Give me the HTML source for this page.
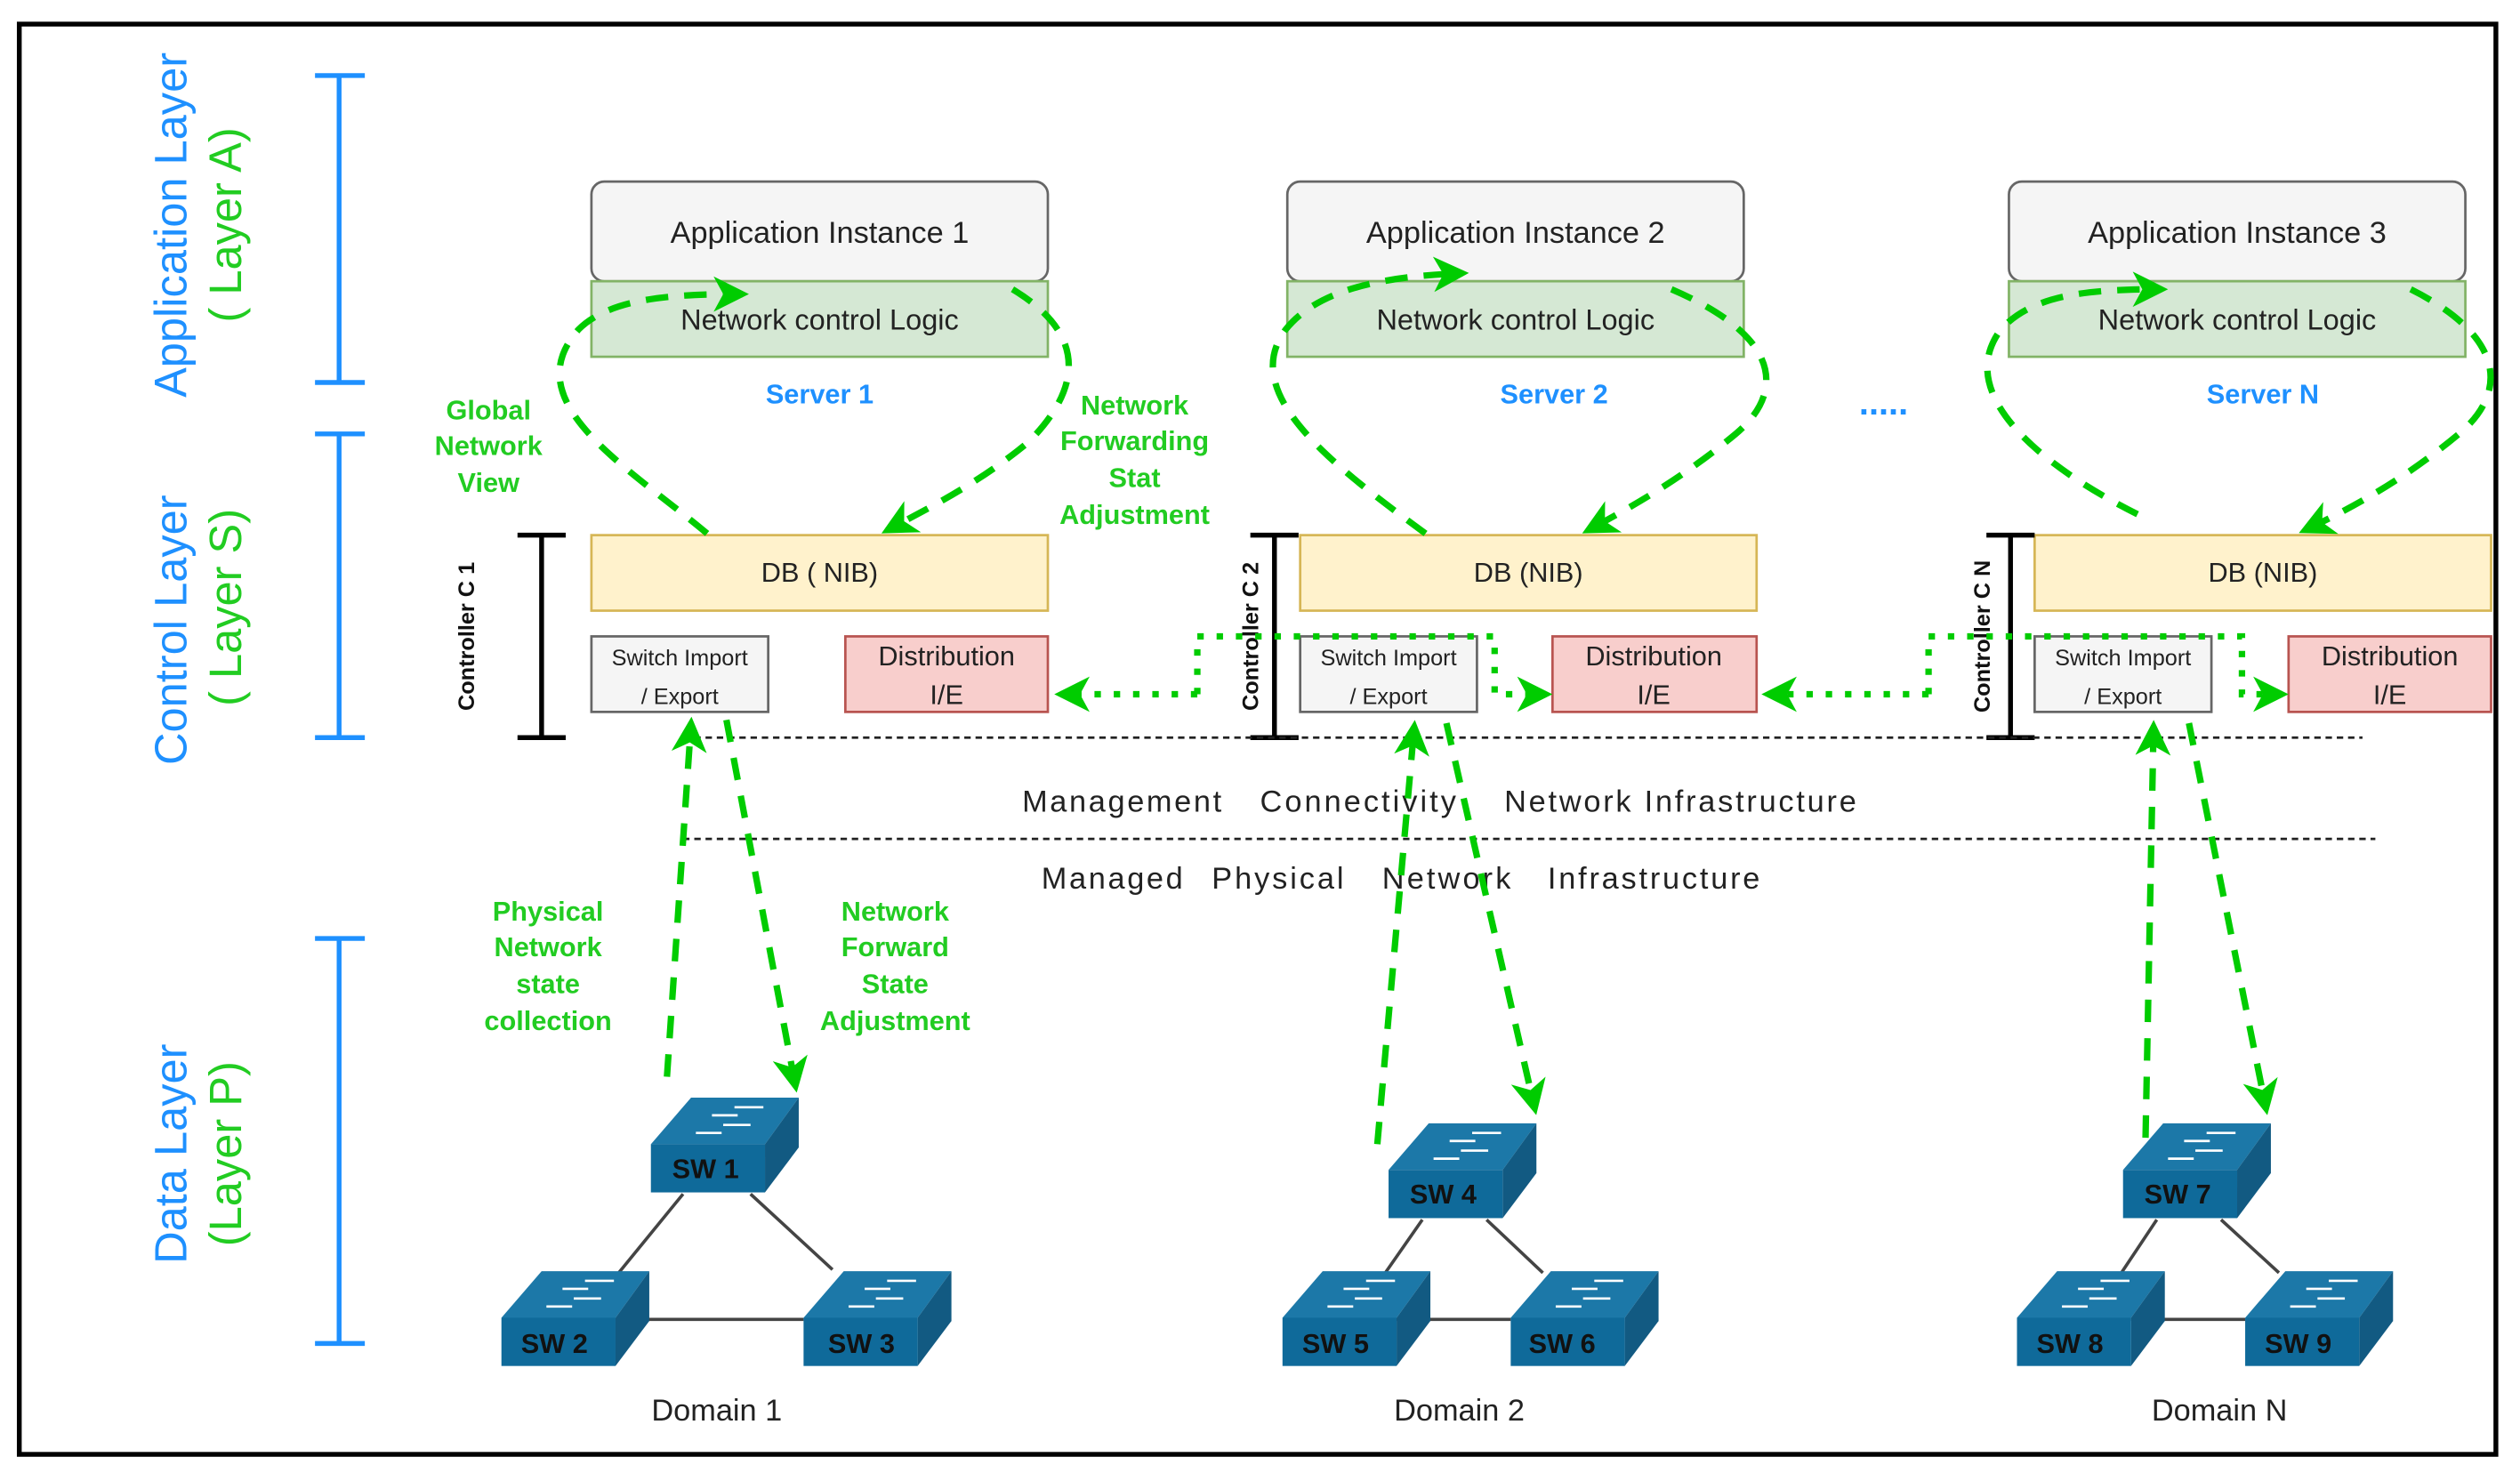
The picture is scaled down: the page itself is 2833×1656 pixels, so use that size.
<!DOCTYPE html>
<html><head><style>html,body{margin:0;padding:0;background:#fff}svg{display:block}</style></head><body>
<svg width="2833" height="1656" viewBox="0 0 1568 916.6" preserveAspectRatio="none" xmlns="http://www.w3.org/2000/svg" font-family="Liberation Sans, sans-serif">
<defs>
<marker id="b" markerWidth="22" markerHeight="22" refX="18" refY="11" orient="auto" markerUnits="userSpaceOnUse" viewBox="0 0 22 22"><path d="M0,0 L22,11 L0,22 L6,11 Z" fill="#00cc00"/></marker>
<g id="sw">
<path d="M0,0 L25,-29 L92,-29 L71,0 Z" fill="#1c78a8"/>
<path d="M71,0 L92,-29 L92,2 L71,30 Z" fill="#125a82"/>
<rect x="0" y="0" width="71" height="30" fill="#0f6a9a"/>
<g stroke="#fff" stroke-width="1.5" fill="#fff">
<line x1="52" y1="-23" x2="70" y2="-23"/><line x1="38" y1="-18" x2="54" y2="-18"/>
<line x1="45" y1="-12" x2="62" y2="-12"/><line x1="28" y1="-7" x2="44" y2="-7"/>
</g>
</g>
</defs>
<rect x="12" y="15" width="1541" height="890" fill="none" stroke="#000" stroke-width="3"/>
<g stroke="#1e90ff" stroke-width="3">
<line x1="211" y1="47" x2="211" y2="238"/><line x1="196" y1="47" x2="227" y2="47"/><line x1="196" y1="238" x2="227" y2="238"/>
<line x1="211" y1="270" x2="211" y2="459"/><line x1="196" y1="270" x2="227" y2="270"/><line x1="196" y1="459" x2="227" y2="459"/>
<line x1="211" y1="584" x2="211" y2="836"/><line x1="196" y1="584" x2="227" y2="584"/><line x1="196" y1="836" x2="227" y2="836"/>
</g>
<g font-size="28" text-anchor="middle">
<text transform="translate(116,140) rotate(-90)" fill="#1e90ff">Application Layer</text>
<text transform="translate(150,140) rotate(-90)" fill="#22cc22">( Layer A)</text>
<text transform="translate(116,392) rotate(-90)" fill="#1e90ff">Control Layer</text>
<text transform="translate(150,378) rotate(-90)" fill="#22cc22">( Layer S)</text>
<text transform="translate(116,718) rotate(-90)" fill="#1e90ff">Data Layer</text>
<text transform="translate(150,718) rotate(-90)" fill="#22cc22">(Layer P)</text>
</g>
<g font-size="19" text-anchor="middle" fill="#222">
<rect x="368" y="113" width="284" height="62" rx="8" fill="#f5f5f5" stroke="#666" stroke-width="1.5"/>
<rect x="368" y="175" width="284" height="47" fill="#d5e8d4" stroke="#82b366" stroke-width="1.5"/>
<text x="510" y="151">Application Instance 1</text>
<text x="510" y="205" font-size="18">Network control Logic</text>
<rect x="801" y="113" width="284" height="62" rx="8" fill="#f5f5f5" stroke="#666" stroke-width="1.5"/>
<rect x="801" y="175" width="284" height="47" fill="#d5e8d4" stroke="#82b366" stroke-width="1.5"/>
<text x="943" y="151">Application Instance 2</text>
<text x="943" y="205" font-size="18">Network control Logic</text>
<rect x="1250" y="113" width="284" height="62" rx="8" fill="#f5f5f5" stroke="#666" stroke-width="1.5"/>
<rect x="1250" y="175" width="284" height="47" fill="#d5e8d4" stroke="#82b366" stroke-width="1.5"/>
<text x="1392" y="151">Application Instance 3</text>
<text x="1392" y="205" font-size="18">Network control Logic</text>
</g>
<g font-size="17" font-weight="bold" fill="#1e90ff" text-anchor="middle">
<text x="510" y="251">Server 1</text><text x="967" y="251">Server 2</text><text x="1408" y="251">Server N</text>
<text x="1172" y="258" font-size="22">.....</text>
</g>
<g font-size="17" text-anchor="middle" fill="#222">
<rect x="368" y="333" width="284" height="47" fill="#fff2cc" stroke="#d6b656" stroke-width="1.5"/><text x="510" y="362">DB ( NIB)</text>
<rect x="809" y="333" width="284" height="47" fill="#fff2cc" stroke="#d6b656" stroke-width="1.5"/><text x="951" y="362">DB (NIB)</text>
<rect x="1266" y="333" width="284" height="47" fill="#fff2cc" stroke="#d6b656" stroke-width="1.5"/><text x="1408" y="362">DB (NIB)</text>
<g font-size="14">
<rect x="368" y="396" width="110" height="47" fill="#f5f5f5" stroke="#666" stroke-width="1.5"/><text x="423" y="414">Switch Import</text><text x="423" y="438">/ Export</text>
<rect x="809" y="396" width="110" height="47" fill="#f5f5f5" stroke="#666" stroke-width="1.5"/><text x="864" y="414">Switch Import</text><text x="864" y="438">/ Export</text>
<rect x="1266" y="396" width="110" height="47" fill="#f5f5f5" stroke="#666" stroke-width="1.5"/><text x="1321" y="414">Switch Import</text><text x="1321" y="438">/ Export</text>
</g>
<rect x="526" y="396" width="126" height="47" fill="#f8cecc" stroke="#b85450" stroke-width="1.5"/><text x="589" y="414">Distribution</text><text x="589" y="438">I/E</text>
<rect x="966" y="396" width="127" height="47" fill="#f8cecc" stroke="#b85450" stroke-width="1.5"/><text x="1029" y="414">Distribution</text><text x="1029" y="438">I/E</text>
<rect x="1424" y="396" width="126" height="47" fill="#f8cecc" stroke="#b85450" stroke-width="1.5"/><text x="1487" y="414">Distribution</text><text x="1487" y="438">I/E</text>
</g>
<g stroke="#000" stroke-width="3">
<line x1="337" y1="333" x2="337" y2="459"/><line x1="322" y1="333" x2="352" y2="333"/><line x1="322" y1="459" x2="352" y2="459"/>
<line x1="793" y1="333" x2="793" y2="459"/><line x1="778" y1="333" x2="808" y2="333"/><line x1="778" y1="459" x2="808" y2="459"/>
<line x1="1251" y1="333" x2="1251" y2="459"/><line x1="1236" y1="333" x2="1266" y2="333"/><line x1="1236" y1="459" x2="1266" y2="459"/>
</g>
<g font-size="14" font-weight="bold" text-anchor="middle" fill="#111">
<text transform="translate(295,396) rotate(-90)">Controller C 1</text>
<text transform="translate(783,396) rotate(-90)">Controller C 2</text>
<text transform="translate(1238,396) rotate(-90)">Controller C N</text>
</g>
<g stroke="#222" stroke-width="1.5" stroke-dasharray="4,3">
<line x1="425" y1="459" x2="1470" y2="459"/><line x1="425" y1="522" x2="1478" y2="522"/>
</g>
<g font-size="19" fill="#222">
<text x="636" y="505" textLength="124">Management</text>
<text x="784" y="505" textLength="122">Connectivity</text>
<text x="936" y="505" textLength="219">Network Infrastructure</text>
<text x="648" y="553" textLength="88">Managed</text>
<text x="754" y="553" textLength="82">Physical</text>
<text x="860" y="553" textLength="80">Network</text>
<text x="963" y="553" textLength="132">Infrastructure</text>
</g>
<g font-size="17" font-weight="bold" fill="#22cc22" text-anchor="middle">
<text x="304" y="261">Global</text><text x="304" y="283">Network</text><text x="304" y="306">View</text>
<text x="706" y="258">Network</text><text x="706" y="280">Forwarding</text><text x="706" y="303">Stat</text><text x="706" y="326">Adjustment</text>
<text x="341" y="573">Physical</text><text x="341" y="595">Network</text><text x="341" y="618">state</text><text x="341" y="641">collection</text>
<text x="557" y="573">Network</text><text x="557" y="595">Forward</text><text x="557" y="618">State</text><text x="557" y="641">Adjustment</text>
</g>
<g fill="none" stroke="#00cc00" stroke-width="4" stroke-dasharray="14,10">
<path d="M440,332 C390,290 320,250 360,205 C380,185 420,183 462,183" marker-end="url(#b)"/>
<path d="M630,180 C680,210 670,245 640,275 C610,300 580,315 552,330" marker-end="url(#b)"/>
<path d="M415,670 L430,450" marker-end="url(#b)"/>
<path d="M452,448 L495,676" marker-end="url(#b)"/>
<path d="M887,332 C830,290 770,245 800,205 C820,180 860,172 910,170" marker-end="url(#b)"/>
<path d="M1040,180 C1110,210 1110,245 1080,270 C1050,295 1020,313 988,330" marker-end="url(#b)"/>
<path d="M857,712 L880,452" marker-end="url(#b)"/>
<path d="M900,450 L955,690" marker-end="url(#b)"/>
<path d="M1330,320 C1270,290 1215,245 1245,205 C1265,183 1300,180 1345,180" marker-end="url(#b)"/>
<path d="M1500,180 C1560,210 1560,245 1530,270 C1500,295 1470,313 1434,330" marker-end="url(#b)"/>
<path d="M1335,708 L1340,452" marker-end="url(#b)"/>
<path d="M1362,450 L1410,690" marker-end="url(#b)"/>
</g>
<g fill="none" stroke="#00cc00" stroke-width="4" stroke-dasharray="4,8">
<path d="M745,432 L660,432" marker-end="url(#b)"/>
<path d="M745,432 L745,396 L930,396 L930,432 L962,432" marker-end="url(#b)"/>
<path d="M1200,432 L1100,432" marker-end="url(#b)"/>
<path d="M1200,432 L1200,396 L1395,396 L1395,432 L1420,432" marker-end="url(#b)"/>
</g>
<g stroke="#444" stroke-width="2">
<line x1="425" y1="743" x2="385" y2="792"/><line x1="467" y1="743" x2="518" y2="790"/><line x1="383" y1="821" x2="500" y2="821"/>
<line x1="885" y1="759" x2="862" y2="792"/><line x1="925" y1="759" x2="960" y2="792"/><line x1="868" y1="821" x2="940" y2="821"/>
<line x1="1342" y1="759" x2="1320" y2="792"/><line x1="1382" y1="759" x2="1418" y2="792"/><line x1="1326" y1="821" x2="1397" y2="821"/>
</g>
<use href="#sw" x="405" y="712"/><use href="#sw" x="312" y="820"/><use href="#sw" x="500" y="820"/>
<use href="#sw" x="864" y="728"/><use href="#sw" x="798" y="820"/><use href="#sw" x="940" y="820"/>
<use href="#sw" x="1321" y="728"/><use href="#sw" x="1255" y="820"/><use href="#sw" x="1397" y="820"/>
<g font-size="17" font-weight="bold" fill="#111" text-anchor="middle">
<text x="439" y="733">SW 1</text><text x="345" y="842">SW 2</text><text x="536" y="842">SW 3</text>
<text x="898" y="749">SW 4</text><text x="831" y="842">SW 5</text><text x="972" y="842">SW 6</text>
<text x="1355" y="749">SW 7</text><text x="1288" y="842">SW 8</text><text x="1430" y="842">SW 9</text>
</g>
<g font-size="19" fill="#222" text-anchor="middle">
<text x="446" y="884">Domain 1</text><text x="908" y="884">Domain 2</text><text x="1381" y="884">Domain N</text>
</g>
</svg>
</body></html>
